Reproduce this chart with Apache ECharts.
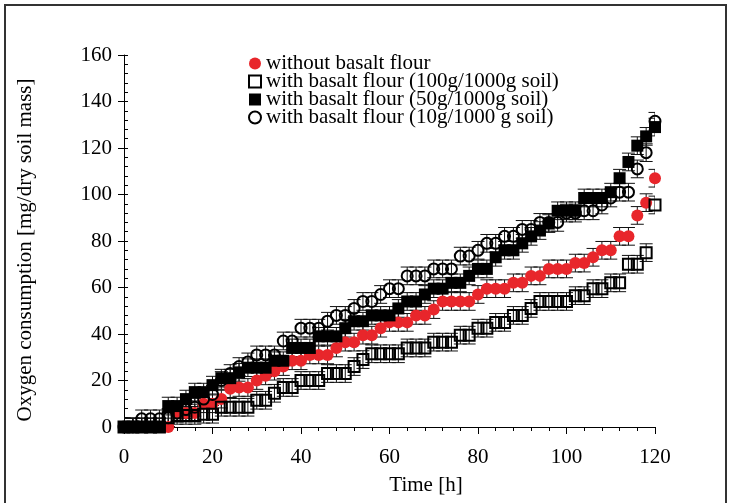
<!DOCTYPE html>
<html><head><meta charset="utf-8">
<script src="https://cdn.jsdelivr.net/npm/echarts@6/dist/echarts.min.js"></script>
<style>html,body{margin:0;padding:0;background:#fff}#c{width:730px;height:503px}</style>
</head><body><div id="c"></div>
<script>
const hours = [0,2,4,6,8,10,12,14,16,18,20,22,24,26,28,30,32,34,36,38,40,42,44,46,48,50,52,54,56,58,60,62,64,66,68,70,72,74,76,78,80,82,84,86,88,90,92,94,96,98,100,102,104,106,108,110,112,114,116,118,120];
const seriesNames = ['without basalt flour','with basalt flour (100g/1000g soil)','with basalt flour (50g/1000g soil)','with basalt flour (10g/1000 g soil)'];
const withoutBasalt = [0,0,0,0,0,0,6,6,6,10,10,12,16.5,17,17,20,22,24,26,28.5,28.5,31,31,31,34,36.5,36.5,39.5,39.5,42.5,45,45,45,48,48,50.5,54,54,54,54,57,59.5,59.5,59.5,62,62,65,65,68,68,68,70.5,70.5,73,76,76,82,82,91,96.5,107];
const basalt100 = [0,0,0,0,0,4,5,5,5,5.5,5.5,8.5,8.5,8.5,8.5,11.5,11.5,14.5,17,17,20,20,20,23,23,23,26,29,31.5,31.5,31.5,31.5,34,34,34,36.5,36.5,36.5,39.5,39.5,42.5,42.5,45,45,48,48,51,54,54,54,54,56.5,56.5,59.5,59.5,62,62,70,70,75,95.5];
const basalt50 = [0,0,0,0,0,9,9,12,15,15,18,21,21,23.5,25.5,25.5,25.5,28.5,28.5,34,34,34,39,39,39,42.5,45.5,45.5,48,48,48,51,54,54,57,59.5,59.5,62,62,65,68,68,73,76,76,79,82,84.5,87.5,93,93,93,98.5,98.5,98.5,101,107,114,121,125,129];
const basalt10 = [0,0,3.5,3.5,3.5,4,6,7.5,8.5,12,14,20,23,26,28,31,31,31,37,37,42.5,42.5,42.5,45.5,48,48,51,54,54,57,59.5,59.5,65,65,65,68,68,68,73.5,73.5,76,79,79,82,82,85,85,88,88,88,92,92,93,93,95.5,98.5,101,101,111,118,131.5];
const errorHalf = 3.8;

const font = "'Liberation Serif', serif";
function pairs(vals){ return hours.map((h,i)=>[h, vals[i], errorHalf]); }
function errRender(params, api){
  const x = api.value(0), y = api.value(1), e = api.value(2);
  const t = api.coord([x, y+e]), b = api.coord([x, y-e]);
  const w = 6.5, st = {stroke:'#111', lineWidth:1};
  return {type:'group', children:[
    {type:'line', shape:{x1:t[0],y1:t[1],x2:b[0],y2:b[1]}, style:st},
    {type:'line', shape:{x1:t[0]-w,y1:t[1],x2:t[0]+w,y2:t[1]}, style:st},
    {type:'line', shape:{x1:b[0]-w,y1:b[1],x2:b[0]+w,y2:b[1]}, style:st}
  ]};
}
const sets = [withoutBasalt, basalt100, basalt50, basalt10];
const styles = [
  {symbol:'circle', symbolSize:12, itemStyle:{color:'#e8262b', opacity:1}},
  {symbol:'rect', symbolSize:11, itemStyle:{color:'rgba(255,255,255,0)', borderColor:'#000', borderWidth:2, opacity:1}},
  {symbol:'rect', symbolSize:12, itemStyle:{color:'#000', opacity:1}},
  {symbol:'circle', symbolSize:11, itemStyle:{color:'rgba(255,255,255,0)', borderColor:'#000', borderWidth:2, opacity:1}}
];
const series = [];
sets.forEach((s,i)=>{
  series.push({type:'custom', name:'err'+i, renderItem:errRender, data:pairs(s), clip:true, z:1, silent:true, encode:{x:0,y:1}});
});
sets.forEach((s,i)=>{
  series.push(Object.assign({type:'scatter', name:seriesNames[i], data:hours.map((h,j)=>[h,s[j]]), z:2+i}, styles[i]));
});

const chart = echarts.init(document.getElementById('c'));
chart.setOption({
  animation:false,
  backgroundColor:'#fff',
  textStyle:{fontFamily:font},
  grid:{left:124, right:75, top:55, bottom:76},
  legend:{orient:'vertical', left:248, top:53, itemWidth:12, itemHeight:12, itemGap:-3, padding:0,
    data:seriesNames,
    textStyle:{fontFamily:font, fontSize:21, color:'#000', lineHeight:18}},
  graphic:[
    {type:'rect', shape:{x:5,y:5,width:721,height:510}, style:{fill:'none', stroke:'#333', lineWidth:2}, silent:true},
    {type:'text', style:{text:'Time [h]', x:426, y:485, fontFamily:font, fontSize:21, fill:'#000', align:'center', verticalAlign:'middle'}, silent:true}
  ],
  xAxis:{type:'value', min:0, max:120, interval:20,
    axisLine:{lineStyle:{color:'#000', width:1}},
    axisTick:{length:7, lineStyle:{color:'#000'}},
    minorTick:{show:true, splitNumber:5, length:4, lineStyle:{color:'#000'}},
    splitLine:{show:false},
    axisLabel:{fontFamily:font, fontSize:21, color:'#000', margin:20}
  },
  yAxis:[{type:'value', min:0, max:160, interval:20,
    name:'Oxygen consumption [mg/dry soil mass]', nameLocation:'middle', nameGap:88,
    nameTextStyle:{fontFamily:font, fontSize:21, color:'#000', padding:[0,18,0,0]},
    axisLine:{show:true, lineStyle:{color:'#000', width:1}},
    axisTick:{show:true, length:6, lineStyle:{color:'#000'}},
    splitLine:{show:false},
    axisLabel:{fontFamily:font, fontSize:21, color:'#000', margin:12}
  },{type:'value', min:0, max:160, interval:4, position:'left',
    axisLine:{show:false}, axisLabel:{show:false}, splitLine:{show:false},
    axisTick:{show:true, inside:true, length:4, lineStyle:{color:'#000'}}
  }],
  series:series
});
</script></body></html>
